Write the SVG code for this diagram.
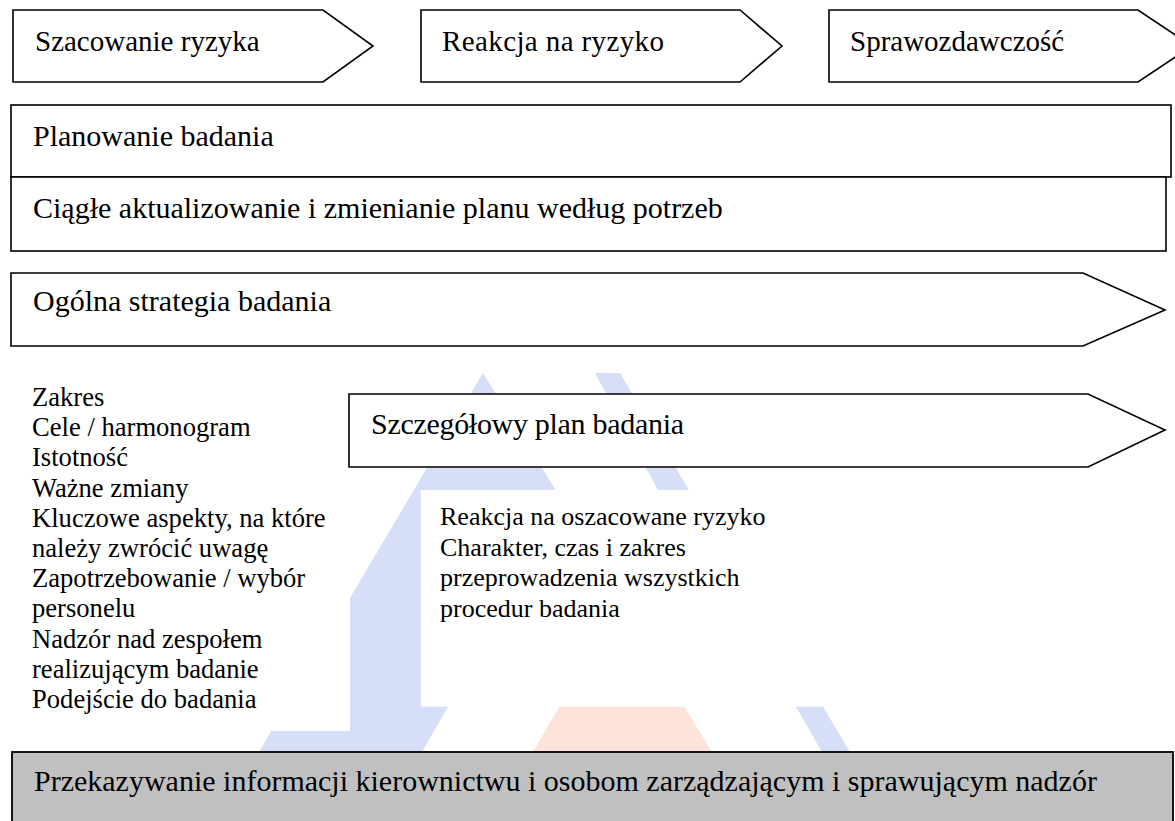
<svg xmlns="http://www.w3.org/2000/svg" width="1175" height="821" viewBox="0 0 1175 821">
<style>
.box{fill:#ffffff;stroke:#000000;stroke-width:1.6}
.t{font-family:"Liberation Serif","Times New Roman",serif;font-size:29px;fill:#000000}
.t30{font-family:"Liberation Serif","Times New Roman",serif;font-size:30px;fill:#000000}
.l{font-family:"Liberation Serif","Times New Roman",serif;font-size:26.6px;fill:#000000}
.r{font-family:"Liberation Serif","Times New Roman",serif;font-size:26px;fill:#000000}
.wm-b{fill:#D6DFF7}
.wm-o{fill:#FDE3D9}
.mask{fill:#ffffff}
</style>
<rect width="1175" height="821" fill="#ffffff"/>
<g id="watermark">
<polygon class="wm-b" points="483,373 562,500 448,700 448,707 422,752 259,752"/>
<polygon class="wm-b" points="595,373 620,373 690,492 819,700 850,752 822,752 792,700 659,492"/>
<polygon class="wm-o" points="563,700 680,700 712,752 533,752"/>
<rect class="mask" x="0" y="360" width="350" height="371"/>
<rect class="mask" x="420.7" y="490" width="600" height="216.7"/>
</g>
<g id="connectors"></g>
<g id="n-szacowanie">
<polygon class="box" points="13,10 323,10 373,46 323,82 13,82"/>
<text class="t" x="35" y="51">Szacowanie ryzyka</text>
</g>
<g id="n-reakcja">
<polygon class="box" points="421,10 740,10 782,46 740,82 421,82"/>
<text class="t" x="442" y="51" textLength="222">Reakcja na ryzyko</text>
</g>
<g id="n-sprawozdawczosc">
<polygon class="box" points="829,10 1138,10 1192,46 1138,82 829,82"/>
<text class="t" x="850" y="51">Sprawozdawczość</text>
</g>
<g id="n-planowanie">
<rect class="box" x="11" y="105" width="1160" height="72"/>
<text class="t30" x="33" y="146">Planowanie badania</text>
</g>
<g id="n-ciagle">
<rect class="box" x="11" y="177" width="1155" height="74"/>
<text class="t30" x="33" y="218">Ciągłe aktualizowanie i zmienianie planu według potrzeb</text>
</g>
<g id="n-ogolna">
<polygon class="box" points="11,273 1083,273 1165,310 1083,346 11,346"/>
<text class="t30" x="33" y="311">Ogólna strategia badania</text>
</g>
<g id="n-lista-ogolna">
<text class="l" x="32" y="406">Zakres</text>
<text class="l" x="32" y="436.2">Cele / harmonogram</text>
<text class="l" x="32" y="466.4">Istotność</text>
<text class="l" x="32" y="496.6">Ważne zmiany</text>
<text class="l" x="32" y="526.8">Kluczowe aspekty, na które</text>
<text class="l" x="32" y="557">należy zwrócić uwagę</text>
<text class="l" x="32" y="587.2">Zapotrzebowanie / wybór</text>
<text class="l" x="32" y="617.4">personelu</text>
<text class="l" x="32" y="647.6">Nadzór nad zespołem</text>
<text class="l" x="32" y="677.8">realizującym badanie</text>
<text class="l" x="32" y="708">Podejście do badania</text>
</g>
<g id="n-szczegolowy">
<polygon class="box" points="349,394 1088,394 1165,430 1088,467 349,467"/>
<text class="t30" x="371" y="434" textLength="313">Szczegółowy plan badania</text>
</g>
<g id="n-lista-szczegolowy">
<text class="r" x="440" y="525">Reakcja na oszacowane ryzyko</text>
<text class="r" x="440" y="555.5">Charakter, czas i zakres</text>
<text class="r" x="440" y="586">przeprowadzenia wszystkich</text>
<text class="r" x="440" y="616.5">procedur badania</text>
</g>
<g id="n-przekazywanie">
<rect x="12" y="752" width="1161" height="90" fill="#C0C0C0" stroke="#000000" stroke-width="1.8"/>
<text class="t30" x="34" y="791">Przekazywanie informacji kierownictwu i osobom zarządzającym i sprawującym nadzór</text>
</g>
</svg>
